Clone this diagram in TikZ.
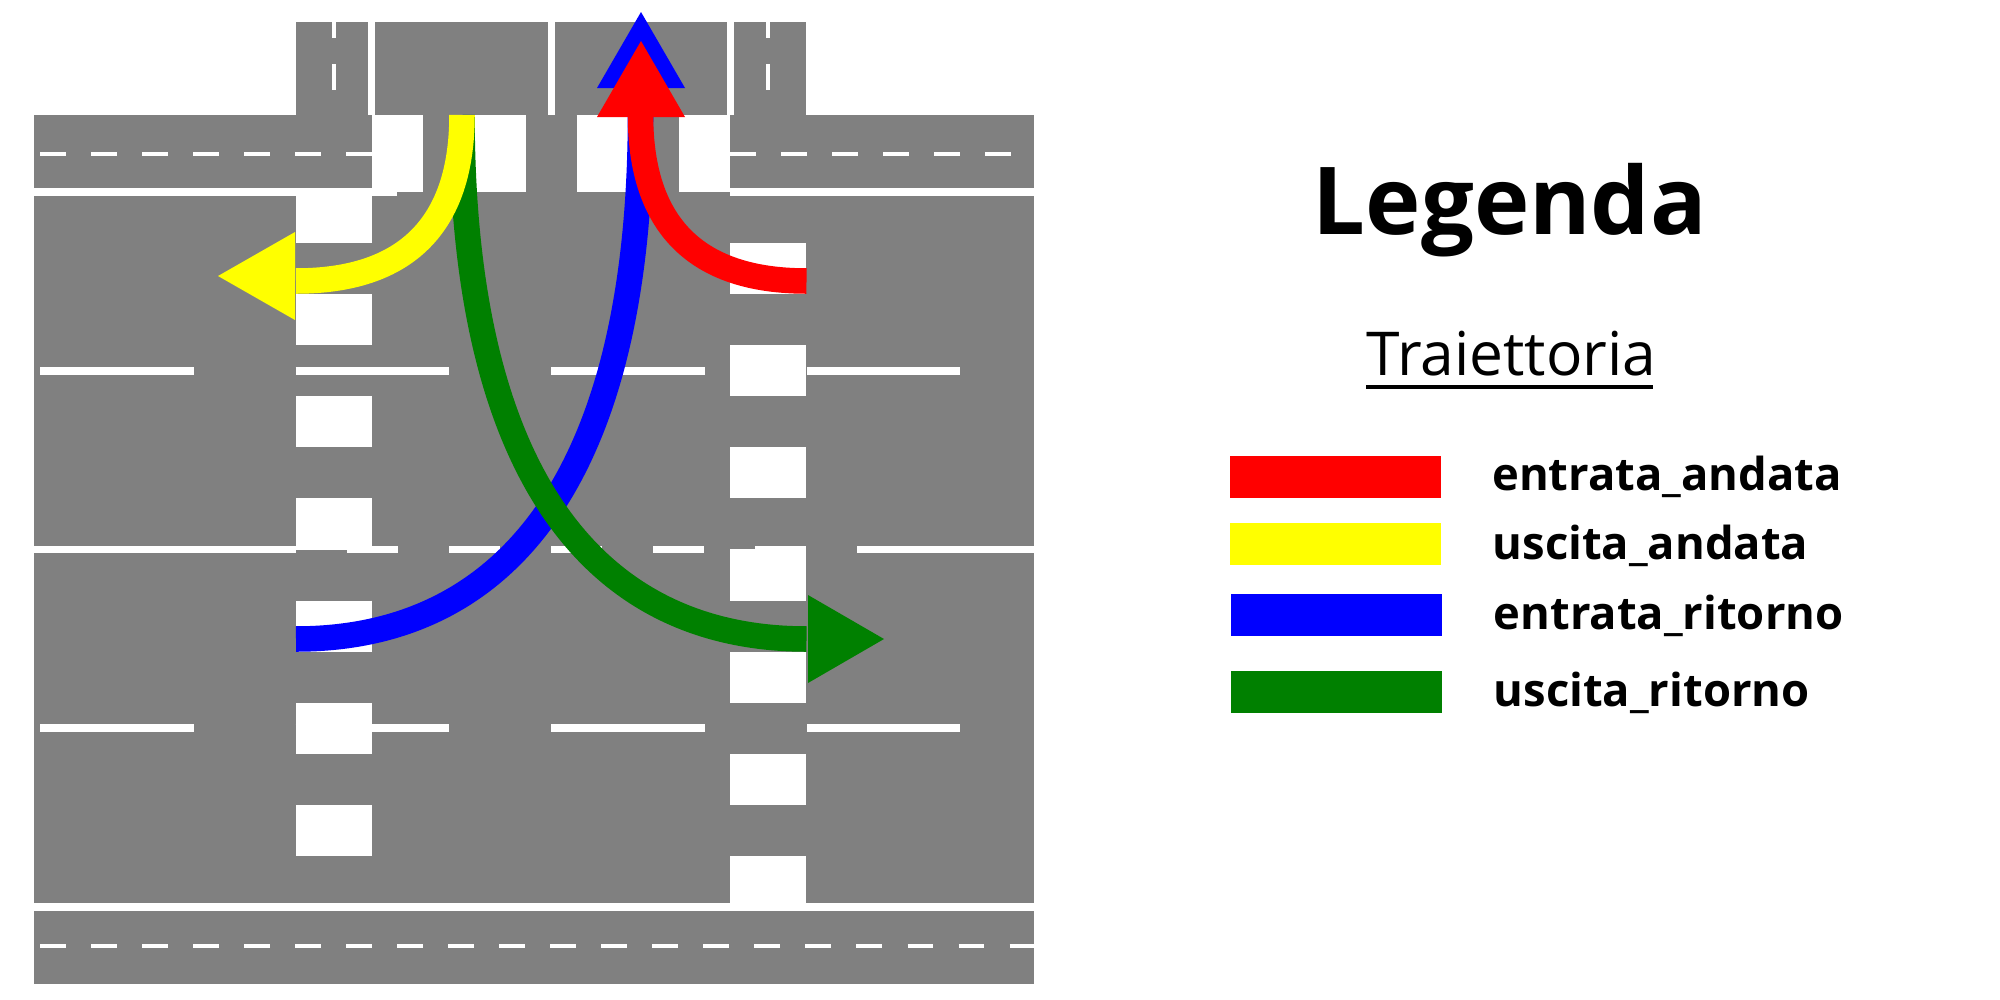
\documentclass[tikz,border=0pt]{standalone}
\usepackage{fontspec}
\setmainfont{Open Sans}
\definecolor{rosso}{RGB}{255,0,0}
\definecolor{giallo}{RGB}{255,255,0}
\definecolor{blu}{RGB}{0,0,255}
\definecolor{verde}{RGB}{0,128,0}
\begin{document}
\begin{tikzpicture}[x=0.01cm, y=-0.01cm,
	asphalt/.style={fill=gray},
	zebra/.style={white, line width=0.765cm, dash pattern=on 0.5105cm off 0.5105cm},
	lane/.style={white, line width=0.077cm, dash pattern=on 1.535cm off 1.02cm},
	shortdash/.style={white, line width=0.04cm, dash pattern=on 0.255cm off 0.255cm},
	border/.style={white, line width=0.077cm},
	route/.style={line width=0.255cm},
	voce/.style={anchor=base west, inner sep=0pt, font=\fontsize{12.9}{14}\selectfont\bfseries}]
	\useasboundingbox (0,0) rectangle (2000,1000);

	% 1. asphalt
	\fill[asphalt] (296,22) rectangle (806,115);
	\fill[asphalt] (34,115) rectangle (1034,188);
	\fill[asphalt] (34,192) rectangle (1034,903);
	\fill[asphalt] (397,185) rectangle (730,195);
	\fill[asphalt] (34,911) rectangle (1034,984);

	% 2. lines of the top arm
	\draw[white, line width=0.07cm] (371.7,22) -- (371.7,115);
	\draw[white, line width=0.07cm] (551,22) -- (551,115);
	\draw[white, line width=0.07cm] (730.3,22) -- (730.3,115);
	\foreach \x in {334,768}{
		\draw[white, line width=0.045cm] (\x,22) -- (\x,38);
		\draw[white, line width=0.045cm] (\x,64) -- (\x,90);
	}

	% 3. side roads and lanes
	\draw[shortdash] (40,153.7) -- (372,153.7);
	\draw[shortdash] (730,153.7) -- (1012,153.7);
	\draw[shortdash] (40,945.6) -- (1034,945.6);
	\draw[border] (34,192) -- (397,192);
	\draw[border] (730,192) -- (1034,192);
	\draw[lane] (40,371) -- (960,371);
	\draw[lane] (40,728) -- (960,728);

	% 4. middle line
	\draw[border] (34,549.5) -- (295,549.5);
	\draw[border, dash pattern=on 0.51cm off 0.51cm] (245,549.5) -- (858,549.5);
	\draw[border] (858,549.5) -- (1034,549.5);

	% 5. crossings
	\draw[zebra, dash pattern=on 0.5115cm off 0.5115cm] (372,153.5) -- (730,153.5);
	\draw[zebra] (334,192) -- (334,856);
	\draw[zebra] (768,243) -- (768,903);

	% 6. routes: blue, green, red, yellow
	\coordinate (ovest) at (296,639);
	\coordinate (est) at (806.5,639);
	\coordinate (nordA) at (640.5,115);
	\coordinate (nordU) at (462,115);
	\coordinate (ovestU) at (296,281);
	\coordinate (estE) at (806.5,281);

	\draw[route, blu] (ovest) .. controls (520,639) and (640.5,456) .. (nordA) -- (640.5,88);
	\fill[blu] (597,88) -- (641,12) -- (685,88) -- cycle;

	\draw[route, verde] (nordU) .. controls (462,456) and (582,639) .. (est);
	\fill[verde] (808,595) -- (884,639) -- (808,683) -- cycle;

	\draw[route, rosso] (estE) .. controls (696,281) and (640.5,225) .. (nordA);
	\fill[rosso] (597,117) -- (641,41) -- (685,117) -- cycle;

	\draw[route, giallo] (nordU) .. controls (462,225) and (406,281) .. (ovestU);
	\fill[giallo] (295,232) -- (218,276) -- (295,320) -- cycle;

	% 7. legend
	\node[anchor=base west, inner sep=0pt, font=\fontsize{26.65}{30}\selectfont\bfseries] (legenda) at (1312,234) {Legenda};
	\node[anchor=base west, inner sep=0pt, font=\fontsize{17.2}{20}\selectfont] (traiettoria) at (1366,375) {Traiettoria};
	\draw[black, line width=0.045cm] (1366,387) -- (1653,387);

	\fill[rosso] (1230,456) rectangle (1441,498);
	\fill[giallo] (1230,523) rectangle (1441,565);
	\fill[blu] (1231,594) rectangle (1442,636);
	\fill[verde] (1231,671) rectangle (1442,713);

	\node[voce] (ea) at (1491.5,490.5) {entrata\_andata};
	\node[voce] (ua) at (1492,559) {uscita\_andata};
	\node[voce] (er) at (1493,629) {entrata\_ritorno};
	\node[voce] (ur) at (1493,706) {uscita\_ritorno};
\end{tikzpicture}
\end{document}
